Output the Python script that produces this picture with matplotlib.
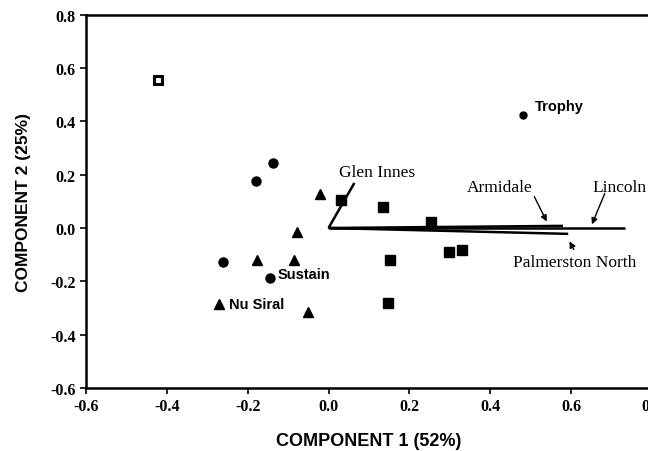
import matplotlib
matplotlib.use("Agg")
import matplotlib.pyplot as plt

# cultivar scores (PC1, PC2)
sq_x = [0.030, 0.135, 0.254, 0.153, 0.299, 0.330, 0.146]
sq_y = [0.106, 0.080, 0.024, -0.120, -0.091, -0.081, -0.281]
open_sq_x = [-0.422]
open_sq_y = [0.556]
circ_x = [-0.137, -0.180, -0.260, -0.145]
circ_y = [0.243, 0.175, -0.126, -0.189]
tri_x = [-0.020, -0.079, -0.178, -0.086, -0.271, -0.051]
tri_y = [0.128, -0.015, -0.121, -0.121, -0.285, -0.316]
trophy = (0.480, 0.424)

# site vectors
sites = ["Glen Innes", "Armidale", "Lincoln", "Palmerston North"]
vec_x = [0.064, 0.580, 0.733, 0.593]
vec_y = [0.169, 0.008, 0.000, -0.022]

xticks = [-0.6, -0.4, -0.2, 0.0, 0.2, 0.4, 0.6, 0.8]
yticks = [-0.6, -0.4, -0.2, 0.0, 0.2, 0.4, 0.6, 0.8]

serif = "Liberation Serif"
sans = "Liberation Sans"

fig = plt.figure(figsize=(6.48, 4.52), dpi=100)
ax = fig.add_axes([0.1327, 0.1394, 0.8733, 0.8259])

for vx, vy in zip(vec_x, vec_y):
    ax.plot([0, vx], [0, vy], color="black", lw=1.8, solid_capstyle="butt")

ax.plot(sq_x, sq_y, "s", color="black", ms=6.5)
ax.plot(open_sq_x, open_sq_y, "s", mfc="white", mec="black", ms=5.5, mew=2.2)
ax.plot(circ_x, circ_y, "o", color="black", ms=6.5)
ax.plot(tri_x, tri_y, "^", color="black", ms=6.5)
ax.plot([trophy[0]], [trophy[1]], "o", color="black", ms=5)

ax.text(0.511, 0.457, "Trophy", fontfamily=sans, fontweight="bold", fontsize=10.5, va="center")
ax.text(-0.126, -0.172, "Sustain", fontfamily=sans, fontweight="bold", fontsize=10.5, va="center")
ax.text(-0.247, -0.285, "Nu Siral", fontfamily=sans, fontweight="bold", fontsize=10.5, va="center")

ax.text(0.025, 0.21, sites[0], fontfamily=serif, fontsize=12.5, va="center")
ax.text(0.343, 0.154, sites[1], fontfamily=serif, fontsize=12.5, va="center")
ax.text(0.652, 0.154, sites[2], fontfamily=serif, fontsize=12.5, va="center")
ax.text(0.457, -0.127, sites[3], fontfamily=serif, fontsize=12.5, va="center")

arrow = dict(arrowstyle="-|>", color="black", lw=1.0, mutation_scale=9)
ax.annotate("", xy=(0.543, 0.015), xytext=(0.506, 0.127), arrowprops=arrow)
ax.annotate("", xy=(0.649, 0.004), xytext=(0.686, 0.139), arrowprops=arrow)
ax.annotate("", xy=(0.593, -0.041), xytext=(0.610, -0.090), arrowprops=arrow)

ax.set_xlim(-0.6, 0.8)
ax.set_ylim(-0.6, 0.8)
ax.set_xticks(xticks)
ax.set_yticks(yticks)
ax.set_xticklabels([f"{t:.1f}" for t in xticks], fontfamily=serif, fontweight="bold", fontsize=11.5)
ax.set_yticklabels([f"{t:.1f}" for t in yticks], fontfamily=serif, fontweight="bold", fontsize=11.5)
ax.tick_params(direction="out", length=4, width=1.2, top=False, right=False)
for s in ax.spines.values():
    s.set_linewidth(1.8)

ax.set_xlabel("COMPONENT 1 (52%)", fontfamily=sans, fontweight="bold", fontsize=13, labelpad=13)
ax.set_ylabel("COMPONENT 2 (25%)", fontfamily=sans, fontweight="bold", fontsize=12.5, labelpad=14)

fig.savefig("out.png", dpi=100)
